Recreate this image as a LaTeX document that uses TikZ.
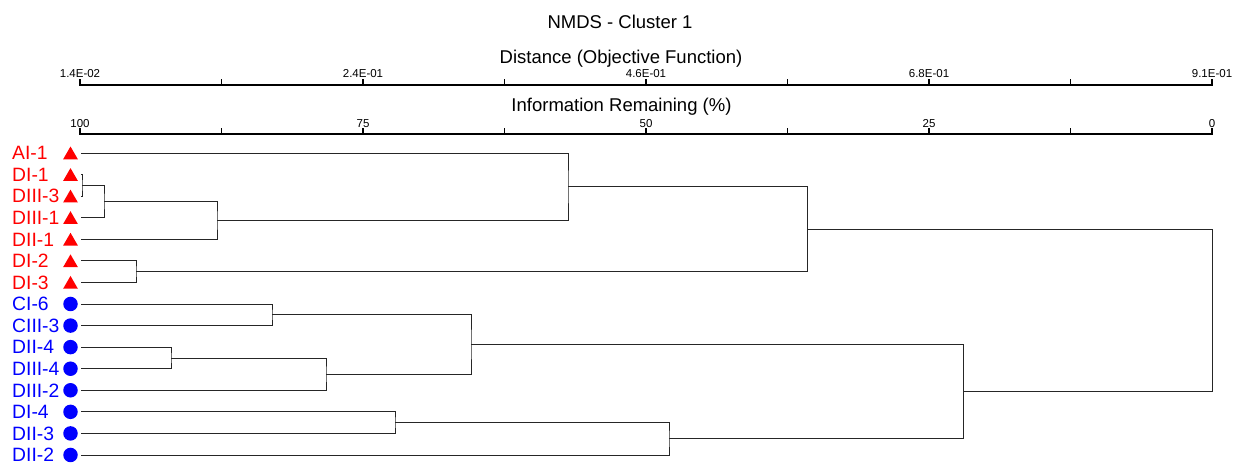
\documentclass[tikz,border=0pt]{standalone}
\usepackage{fontspec}
\setmainfont{Liberation Sans}
\usetikzlibrary{shapes.geometric}

% leaf row -> y position (pixels, downwards)
\newcommand{\ly}[1]{153+(#1-1)*21.57}

\tikzset{
  leaf/.style={font=\fontsize{19.3}{20}\selectfont, inner sep=0pt, anchor=base west},
  triMark/.style={regular polygon, regular polygon sides=3, minimum size=17pt, inner sep=0pt, yshift=-2pt},
  dotMark/.style={circle, minimum size=14.5pt, inner sep=0pt},
  branch/.style={line width=0.8pt, black!85},
  axisline/.style={line width=1.8pt, line cap=rect},
  ticklab/.style={font=\fontsize{11.5}{14}\selectfont, inner sep=0pt, anchor=base},
  heading/.style={font=\fontsize{18.5}{20}\selectfont, inner sep=0pt, anchor=base},
}

\begin{document}
\begin{tikzpicture}[x=1pt, y=-1pt]
  \useasboundingbox (0,0) rectangle (1239,464);

  % titles
  \node[heading] (ttl) at (620,28) {NMDS - Cluster 1};
  \node[heading] (dtl) at (621,63.5) {Distance (Objective Function)};
  \node[heading] (itl) at (621.5,111) {Information Remaining (\%)};

  % axes
  \draw[axisline] (80,85) coordinate (d0) -- (1212,85) coordinate (d8);
  \draw[axisline] (80,134) coordinate (i0) -- (1212,134) coordinate (i8);
  \foreach \k in {0,...,8} {
    \draw[axisline] ({80+141.5*\k},85) -- ++(0,-5);
    \draw[axisline] ({80+141.5*\k},134) -- ++(0,-5);
  }
  \foreach \v/\k in {1.4E-02/0, 2.4E-01/2, 4.6E-01/4, 6.8E-01/6, 9.1E-01/8}
    \node[ticklab] (dl\k) at ({80+141.5*\k},77.5) {\v};
  \foreach \v/\k in {100/0, 75/2, 50/4, 25/6, 0/8}
    \node[ticklab] (il\k) at ({80+141.5*\k},127) {\v};

  % leaves
  \foreach \lab/\col/\mk [count=\i] in {AI-1/red/triMark, DI-1/red/triMark, DIII-3/red/triMark,
      DIII-1/red/triMark, DII-1/red/triMark, DI-2/red/triMark, DI-3/red/triMark,
      CI-6/blue/dotMark, CIII-3/blue/dotMark, DII-4/blue/dotMark, DIII-4/blue/dotMark,
      DIII-2/blue/dotMark, DI-4/blue/dotMark, DII-3/blue/dotMark, DII-2/blue/dotMark} {
    \node[leaf, text=\col] (t\i) at (12,{\ly{\i}+6.8}) {\lab};
    \node[\mk, fill=\col] (k\i) at (70.5,{\ly{\i}}) {};
    \coordinate (e\i) at (81,{\ly{\i}});
  }

  % merge points
  \coordinate (m1) at (82,{\ly{2.5}});
  \coordinate (m2) at (104,{\ly{3.25}});
  \coordinate (m3) at (217,{\ly{4.125}});
  \coordinate (m4) at (136,{\ly{6.5}});
  \coordinate (m5) at (568,{\ly{2.5625}});
  \coordinate (m6) at (807,{\ly{4.53125}});
  \coordinate (m7) at (272,{\ly{8.5}});
  \coordinate (m8) at (171,{\ly{10.5}});
  \coordinate (m9) at (326,{\ly{11.25}});
  \coordinate (m10) at (471,{\ly{9.875}});
  \coordinate (m11) at (395,{\ly{13.5}});
  \coordinate (m12) at (669,{\ly{14.25}});
  \coordinate (m13) at (963,{\ly{12.0625}});
  \coordinate (m14) at (1212,{\ly{8.296875}});

  % dendrogram
  \draw[branch] (e2) -| (m1) |- (e3);
  \draw[branch] (m1) -| (m2) |- (e4);
  \draw[branch] (m2) -| (m3) |- (e5);
  \draw[branch] (e6) -| (m4) |- (e7);
  \draw[branch] (e1) -| (m5) |- (m3);
  \draw[branch] (m5) -| (m6) |- (m4);
  \draw[branch] (e8) -| (m7) |- (e9);
  \draw[branch] (e10) -| (m8) |- (e11);
  \draw[branch] (m8) -| (m9) |- (e12);
  \draw[branch] (m7) -| (m10) |- (m9);
  \draw[branch] (e13) -| (m11) |- (e14);
  \draw[branch] (m11) -| (m12) |- (e15);
  \draw[branch] (m10) -| (m13) |- (m12);
  \draw[branch] (m6) -| (m14) |- (m13);
\end{tikzpicture}
\end{document}
